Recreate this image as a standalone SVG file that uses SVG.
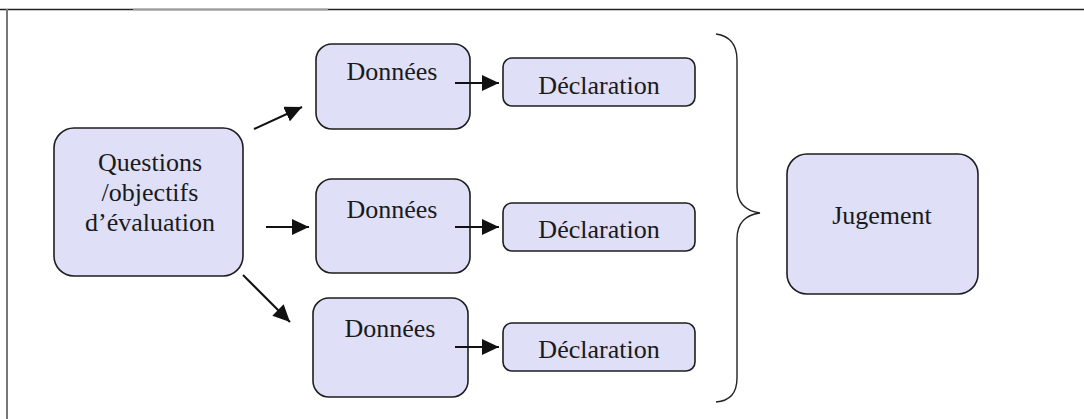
<svg xmlns="http://www.w3.org/2000/svg" width="1084" height="419" viewBox="0 0 1084 419">
  <style>
    .box { fill: #dfdff7; stroke: #1e1e1e; stroke-width: 1.6; }
    .lbl { font-family: "Liberation Serif", "Times New Roman", serif; font-size: 26px; fill: #1a1a1a; text-anchor: middle; }
    .link { stroke: #111; stroke-width: 2; fill: none; marker-end: url(#head); }
    .brace { stroke: #222; stroke-width: 1.4; fill: none; }
  </style>
  <defs>
    <marker id="head" markerUnits="userSpaceOnUse" markerWidth="18" markerHeight="16" refX="17" refY="8" orient="auto">
      <path d="M0,0 L17,8 L0,16 Z" fill="#111"/>
    </marker>
  </defs>

  <rect width="1084" height="419" fill="#ffffff"/>

  <!-- frame -->
  <g id="frame">
    <line x1="0" y1="9.5" x2="1084" y2="9.5" stroke="#222" stroke-width="1.6"/>
    <line x1="133" y1="9.5" x2="328" y2="9.5" stroke="#9a9a9a" stroke-width="1.6"/>
    <line x1="7" y1="9" x2="7" y2="419" stroke="#777" stroke-width="2"/>
  </g>

  <g id="questions">
    <rect class="box" x="54" y="128" width="189" height="148" rx="20"/>
    <text class="lbl" x="150" y="171">Questions</text>
    <text class="lbl" x="150" y="201">/objectifs</text>
    <text class="lbl" x="150" y="231">d’évaluation</text>
  </g>

  <g id="donnees1">
    <rect class="box" x="316" y="44" width="154" height="85" rx="16"/>
    <text class="lbl" x="392" y="80">Données</text>
  </g>
  <g id="declaration1">
    <rect class="box" x="503" y="58" width="192" height="48" rx="9"/>
    <text class="lbl" x="599" y="94">Déclaration</text>
  </g>

  <g id="donnees2">
    <rect class="box" x="316" y="179" width="154" height="94" rx="16"/>
    <text class="lbl" x="392" y="218">Données</text>
  </g>
  <g id="declaration2">
    <rect class="box" x="503" y="203" width="192" height="48" rx="9"/>
    <text class="lbl" x="599" y="238">Déclaration</text>
  </g>

  <g id="donnees3">
    <rect class="box" x="313" y="298" width="155" height="99" rx="16"/>
    <text class="lbl" x="390" y="337">Données</text>
  </g>
  <g id="declaration3">
    <rect class="box" x="503" y="323" width="192" height="48" rx="9"/>
    <text class="lbl" x="599" y="358">Déclaration</text>
  </g>

  <g id="jugement">
    <rect class="box" x="787" y="154" width="191" height="140" rx="20"/>
    <text class="lbl" x="882" y="224">Jugement</text>
  </g>

  <g id="connectors">
    <line class="link" x1="254" y1="129" x2="302" y2="107"/>
    <line class="link" x1="266" y1="227" x2="309" y2="227"/>
    <line class="link" x1="243" y1="275" x2="290" y2="322"/>
    <line class="link" x1="455" y1="83" x2="499" y2="83"/>
    <line class="link" x1="455" y1="227" x2="499" y2="227"/>
    <line class="link" x1="455" y1="347" x2="499" y2="347"/>
    <path class="brace" d="M716,34 C730,36 737,45 737,60 L737,187 C737,203 745,211 760,213 C745,215 737,223 737,239 L737,378 C737,393 730,401 716,402"/>
  </g>
</svg>
